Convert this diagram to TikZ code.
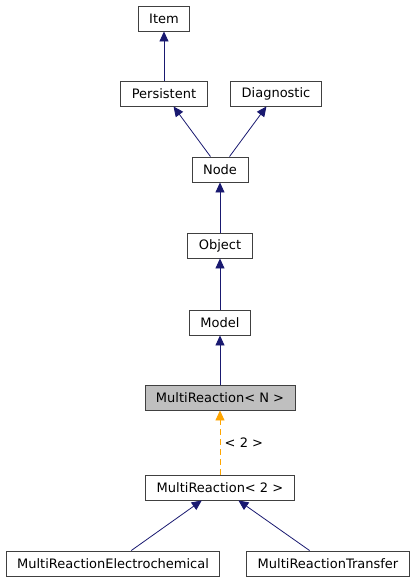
\documentclass[tikz,border=0pt]{standalone}
\usepackage{fontspec}
\setmainfont{DejaVu Sans}
\usetikzlibrary{arrows.meta}
\definecolor{edgeblue}{RGB}{25,25,112}
\definecolor{tmplorange}{RGB}{255,165,0}
\definecolor{curgray}{RGB}{191,191,191}

\begin{document}
\begin{tikzpicture}[x=1pt,y=-1pt,
    cls/.style={draw=black!75, line width=0.9pt, fill=white, inner xsep=11pt, inner ysep=0pt,
      minimum height=25pt, font=\fontsize{13}{15}\selectfont},
    current/.style={cls, fill=curgray},
    inherit/.style={draw=edgeblue, line width=0.8pt, -{Triangle[length=10pt,width=9pt]}},
    tmpl/.style={draw=tmplorange, line width=0.8pt, dash pattern=on 6pt off 4pt, -{Triangle[length=10pt,width=9pt]}}]
      \useasboundingbox (0,0) rectangle (416,583);
      \node[cls] (item) at (164,18.5) {Item};
      \node[cls] (persistent) at (164,93.5) {Persistent};
      \node[cls] (diagnostic) at (276,93.5) {Diagnostic};
      \node[cls] (node) at (220,169.5) {Node};
      \node[cls] (object) at (220,245.5) {Object};
      \node[cls] (model) at (220,322.5) {Model};
      \node[current] (multin) at (220,397.5) {MultiReaction< N >};
      \node[cls] (multitwo) at (220,487.5) {MultiReaction< 2 >};
      \node[cls] (electro) at (113,563.5) {MultiReactionElectrochemical};
      \node[cls] (transfer) at (328,563.5) {MultiReactionTransfer};
      \draw[inherit] (persistent) -- (item);
      \draw[inherit] (node) -- (persistent);
      \draw[inherit] (node) -- (diagnostic);
      \draw[inherit] (object) -- (node);
      \draw[inherit] (model) -- (object);
      \draw[inherit] (multin) -- (model);
      \draw[tmpl] (multitwo) -- (multin) node[midway, right, xshift=1pt, font=\fontsize{13}{15}\selectfont] {< 2 >};
      \draw[inherit] (electro) -- (multitwo);
      \draw[inherit] (transfer) -- (multitwo);
    \end{tikzpicture}
\end{document}
